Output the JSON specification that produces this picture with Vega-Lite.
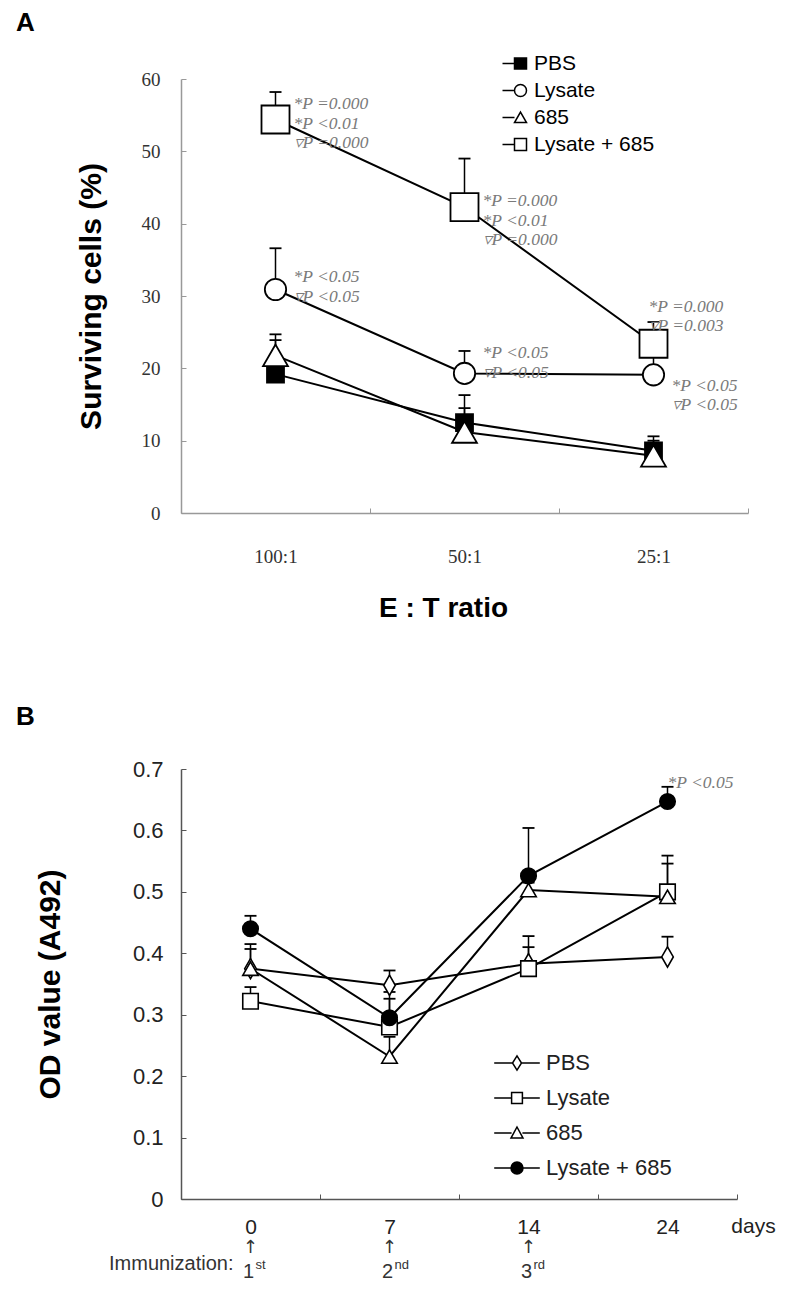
{
  "$schema": "https://vega.github.io/schema/vega-lite/v6.json",
  "background": "white",
  "padding": {"left": 16, "top": 10, "right": 5, "bottom": 5},
  "bounds": "flush",
  "spacing": 256,
  "config": {
    "view": {"stroke": null},
    "axis": {"grid": false},
    "font": "Liberation Sans"
  },
  "datasets": {
    "a": [
      {"treatment": "PBS", "ratio": "100:1", "mean": 19.2, "upper": 23.9},
      {"treatment": "PBS", "ratio": "50:1", "mean": 12.5, "upper": 16.3},
      {"treatment": "PBS", "ratio": "25:1", "mean": 8.6, "upper": 10.6},
      {"treatment": "Lysate", "ratio": "100:1", "mean": 30.9, "upper": 36.6},
      {"treatment": "Lysate", "ratio": "50:1", "mean": 19.3, "upper": 22.4},
      {"treatment": "Lysate", "ratio": "25:1", "mean": 19.1, "upper": 22.7},
      {"treatment": "685", "ratio": "100:1", "mean": 21.8, "upper": 24.7},
      {"treatment": "685", "ratio": "50:1", "mean": 11.2, "upper": 14.5},
      {"treatment": "685", "ratio": "25:1", "mean": 7.9, "upper": 10.0},
      {"treatment": "Lysate + 685", "ratio": "100:1", "mean": 54.4, "upper": 58.2},
      {"treatment": "Lysate + 685", "ratio": "50:1", "mean": 42.3, "upper": 49.0},
      {"treatment": "Lysate + 685", "ratio": "25:1", "mean": 23.4, "upper": 26.4}
    ],
    "a_notes": [
      {"ratio": "100:1", "ay": 56.5, "label": "*P =0.000\n*P <0.01\n▿P =0.000"},
      {"ratio": "100:1", "ay": 32.6, "label": "*P <0.05\n▿P <0.05"},
      {"ratio": "50:1", "ay": 43.1, "label": "*P =0.000\n*P <0.01\n▿P =0.000"},
      {"ratio": "50:1", "ay": 22.1, "label": "*P <0.05\n▿P <0.05"},
      {"ratio": "25:1", "ay": 17.6, "label": "*P <0.05\n▿P <0.05"}
    ],
    "a_notes2": [
      {"ratio": "25:1", "ay": 28.5, "label": "*P =0.000\n▿P =0.003"}
    ],
    "b": [
      {"group": "PBS", "day": "0", "mean": 0.375, "upper": 0.415},
      {"group": "PBS", "day": "7", "mean": 0.348, "upper": 0.372},
      {"group": "PBS", "day": "14", "mean": 0.383, "upper": 0.428},
      {"group": "PBS", "day": "24", "mean": 0.394, "upper": 0.427},
      {"group": "Lysate", "day": "0", "mean": 0.322, "upper": 0.345},
      {"group": "Lysate", "day": "7", "mean": 0.28, "upper": 0.326},
      {"group": "Lysate", "day": "14", "mean": 0.375, "upper": 0.41},
      {"group": "Lysate", "day": "24", "mean": 0.5, "upper": 0.559},
      {"group": "685", "day": "0", "mean": 0.375, "upper": 0.407},
      {"group": "685", "day": "7", "mean": 0.232, "upper": 0.264},
      {"group": "685", "day": "14", "mean": 0.503, "upper": 0.515},
      {"group": "685", "day": "24", "mean": 0.492, "upper": 0.546},
      {"group": "Lysate + 685", "day": "0", "mean": 0.44, "upper": 0.461},
      {"group": "Lysate + 685", "day": "7", "mean": 0.295, "upper": 0.337},
      {"group": "Lysate + 685", "day": "14", "mean": 0.526, "upper": 0.604},
      {"group": "Lysate + 685", "day": "24", "mean": 0.647, "upper": 0.671}
    ],
    "b_notes": [
      {"day": "24", "ay": 0.677, "label": "*P <0.05"}
    ],
    "immun": [
      {"day": "0", "num": "1", "sup": "st"},
      {"day": "7", "num": "2", "sup": "nd"},
      {"day": "14", "num": "3", "sup": "rd"}
    ],
    "immun_label": [
      {"day": "0", "text": "Immunization:"}
    ]
  },
  "resolve": {
    "scale": {"shape": "independent", "fill": "independent", "size": "independent", "x": "independent", "y": "independent"},
    "legend": {"shape": "independent", "fill": "independent", "size": "independent"}
  },
  "vconcat": [
    {
      "width": 567,
      "height": 434,
      "title": {"text": "A", "anchor": "start", "frame": "group", "fontSize": 26, "fontWeight": "bold", "font": "Liberation Sans", "color": "black", "dx": -165, "offset": -9, "baseline": "bottom"},
      "resolve": {"scale": {"shape": "independent", "fill": "independent"}, "legend": {"shape": "independent", "fill": "independent"}},
      "layer": [
        {
          "data": {"name": "a"},
          "mark": {"type": "line", "color": "black", "strokeWidth": 2},
          "encoding": {
            "x": {"field": "ratio", "type": "nominal", "sort": ["100:1", "50:1", "25:1"],
              "scale": {"type": "band", "paddingInner": 0, "paddingOuter": 0},
              "axis": {"title": "E : T ratio", "titleFont": "Liberation Sans", "titleFontSize": 28, "titleFontWeight": "bold", "titleColor": "black",
                "titleX": 262, "titleY": 95, "titleAlign": "center", "titleBaseline": "middle",
                "labelFont": "Liberation Serif", "labelFontSize": 19, "labelColor": "#333", "labelAngle": 0, "labelPadding": 48, "labelBaseline": "middle",
                "tickBand": "extent", "tickSize": -5, "tickColor": "#999", "domainColor": "#999", "domainWidth": 1.5, "tickWidth": 1}},
            "y": {"field": "mean", "type": "quantitative",
              "scale": {"domain": [0, 60], "nice": false, "zero": true},
              "axis": {"title": "Surviving cells (%)", "titleFont": "Liberation Sans", "titleFontSize": 30, "titleFontWeight": "bold", "titleColor": "black",
                "titleX": -90, "titleY": 217, "titleAngle": -90, "titleAlign": "center", "titleBaseline": "middle",
                "values": [0, 10, 20, 30, 40, 50, 60], "format": "d",
                "labelFont": "Liberation Serif", "labelFontSize": 19, "labelColor": "#333", "labelPadding": 26,
                "tickSize": -5, "tickColor": "#999", "domainColor": "#999", "domainWidth": 1.5}},
            "detail": {"field": "treatment"}
          }
        },
        {
          "data": {"name": "a"},
          "mark": {"type": "rule", "color": "black", "strokeWidth": 1.5},
          "encoding": {
            "x": {"field": "ratio", "type": "nominal", "sort": ["100:1", "50:1", "25:1"]},
            "y": {"field": "mean", "type": "quantitative"},
            "y2": {"field": "upper"}
          }
        },
        {
          "data": {"name": "a"},
          "mark": {"type": "tick", "color": "black", "thickness": 1.8, "size": 12, "opacity": 1},
          "encoding": {
            "x": {"field": "ratio", "type": "nominal", "sort": ["100:1", "50:1", "25:1"]},
            "y": {"field": "upper", "type": "quantitative"}
          }
        },
        {
          "data": {"name": "a"},
          "mark": {"type": "point", "filled": true, "stroke": "black", "strokeWidth": 1.8, "opacity": 1},
          "encoding": {
            "x": {"field": "ratio", "type": "nominal", "sort": ["100:1", "50:1", "25:1"]},
            "y": {"field": "mean", "type": "quantitative"},
            "shape": {"field": "treatment", "type": "nominal",
              "scale": {"domain": ["PBS", "Lysate", "685", "Lysate + 685"], "range": ["square", "circle", "triangle-up", "square"]},
              "legend": null},
            "fill": {"field": "treatment", "type": "nominal",
              "scale": {"domain": ["PBS", "Lysate", "685", "Lysate + 685"], "range": ["black", "white", "white", "white"]},
              "legend": null},
            "size": {"field": "treatment", "type": "nominal",
              "scale": {"domain": ["PBS", "Lysate", "685", "Lysate + 685"], "range": [289, 784, 784, 784]},
              "legend": null}
          }
        },
        {
          "data": {"name": "a"},
          "transform": [{"filter": "false"}],
          "mark": {"type": "point", "filled": true, "stroke": "black", "strokeWidth": 1.5, "opacity": 1},
          "encoding": {
            "x": {"field": "ratio", "type": "nominal", "sort": ["100:1", "50:1", "25:1"]},
            "y": {"field": "mean", "type": "quantitative"},
            "shape": {"field": "treatment", "type": "nominal",
              "scale": {"domain": ["PBS", "Lysate", "685", "Lysate + 685"],
                "range": ["M-3,0H-1M-1,-0.9H1V0.9H-1Z", "M-3,0H-1M-1,0A1,1,0,1,1,1,0A1,1,0,1,1,-1,0Z", "M-3,0H-1M0,-0.9L1,0.85H-1Z", "M-3,0H-1M-1,-1H1V1H-1Z"]},
              "legend": {"orient": "none", "legendX": 329, "legendY": -26, "title": null, "padding": 0,
                "labelFont": "Liberation Sans", "labelFontSize": 21, "labelColor": "black", "labelOffset": 3,
                "symbolSize": 144, "symbolOffset": 0, "rowPadding": 5,
                "encode": {"symbols": {"stroke": {"value": "black"}, "strokeWidth": {"value": 1.5}}}}},
            "fill": {"field": "treatment", "type": "nominal",
              "scale": {"domain": ["PBS", "Lysate", "685", "Lysate + 685"], "range": ["black", "white", "white", "white"]},
              "legend": null}
          }
        },
        {
          "data": {"name": "a_notes"},
          "mark": {"type": "text", "font": "Liberation Serif", "fontStyle": "italic", "fontSize": 17.5, "color": "#7a7a7a", "align": "left", "baseline": "middle", "dx": 18, "lineBreak": "\n", "lineHeight": 19.5},
          "encoding": {
            "x": {"field": "ratio", "type": "nominal", "sort": ["100:1", "50:1", "25:1"]},
            "y": {"field": "ay", "type": "quantitative"},
            "text": {"field": "label"}
          }
        },
        {
          "data": {"name": "a_notes2"},
          "mark": {"type": "text", "font": "Liberation Serif", "fontStyle": "italic", "fontSize": 17.5, "color": "#7a7a7a", "align": "left", "baseline": "middle", "dx": -5, "lineBreak": "\n", "lineHeight": 19.5},
          "encoding": {
            "x": {"field": "ratio", "type": "nominal", "sort": ["100:1", "50:1", "25:1"]},
            "y": {"field": "ay", "type": "quantitative"},
            "text": {"field": "label"}
          }
        }
      ]
    },
    {
      "width": 556,
      "height": 430,
      "title": {"text": "B", "anchor": "start", "frame": "group", "fontSize": 26, "fontWeight": "bold", "font": "Liberation Sans", "color": "black", "dx": -165, "offset": 2, "baseline": "bottom"},
      "resolve": {"scale": {"shape": "independent", "fill": "independent"}, "legend": {"shape": "independent", "fill": "independent"}},
      "layer": [
        {
          "data": {"name": "b"},
          "mark": {"type": "line", "color": "black", "strokeWidth": 2},
          "encoding": {
            "x": {"field": "day", "type": "nominal", "sort": ["0", "7", "14", "24"],
              "scale": {"type": "band", "paddingInner": 0, "paddingOuter": 0},
              "axis": {"title": "days", "titleFont": "Liberation Sans", "titleFontSize": 21, "titleFontWeight": "normal", "titleColor": "#222",
                "titleX": 572, "titleY": 27, "titleAlign": "center", "titleBaseline": "middle",
                "labelFont": "Liberation Sans", "labelFontSize": 21, "labelColor": "#222", "labelAngle": 0, "labelPadding": 33, "labelBaseline": "middle",
                "tickBand": "extent", "tickSize": -5, "tickColor": "#555", "domainColor": "#555", "domainWidth": 1.5, "tickWidth": 1}},
            "y": {"field": "mean", "type": "quantitative",
              "scale": {"domain": [0, 0.7], "nice": false, "zero": true},
              "axis": {"title": "OD value (A492)", "titleFont": "Liberation Sans", "titleFontSize": 30, "titleFontWeight": "bold", "titleColor": "black",
                "titleX": -131, "titleY": 215, "titleAngle": -90, "titleAlign": "center", "titleBaseline": "middle",
                "values": [0, 0.1, 0.2, 0.3, 0.4, 0.5, 0.6, 0.7], "format": ".1~f",
                "labelFont": "Liberation Sans", "labelFontSize": 22, "labelColor": "#222", "labelPadding": 23,
                "tickSize": -5, "tickColor": "#555", "domainColor": "#555", "domainWidth": 1.5}},
            "detail": {"field": "group"}
          }
        },
        {
          "data": {"name": "b"},
          "mark": {"type": "rule", "color": "black", "strokeWidth": 1.5},
          "encoding": {
            "x": {"field": "day", "type": "nominal", "sort": ["0", "7", "14", "24"]},
            "y": {"field": "mean", "type": "quantitative"},
            "y2": {"field": "upper"}
          }
        },
        {
          "data": {"name": "b"},
          "mark": {"type": "tick", "color": "black", "thickness": 1.8, "size": 12, "opacity": 1},
          "encoding": {
            "x": {"field": "day", "type": "nominal", "sort": ["0", "7", "14", "24"]},
            "y": {"field": "upper", "type": "quantitative"}
          }
        },
        {
          "data": {"name": "b"},
          "mark": {"type": "point", "filled": true, "stroke": "black", "strokeWidth": 1.6, "opacity": 1, "size": 240},
          "encoding": {
            "x": {"field": "day", "type": "nominal", "sort": ["0", "7", "14", "24"]},
            "y": {"field": "mean", "type": "quantitative"},
            "shape": {"field": "group", "type": "nominal",
              "scale": {"domain": ["PBS", "Lysate", "685", "Lysate + 685"], "range": ["M0,-1.3L0.75,0L0,1.3L-0.75,0Z", "square", "triangle-up", "circle"]},
              "legend": null},
            "fill": {"field": "group", "type": "nominal",
              "scale": {"domain": ["PBS", "Lysate", "685", "Lysate + 685"], "range": ["white", "white", "white", "black"]},
              "legend": null}
          }
        },
        {
          "data": {"name": "b"},
          "transform": [{"filter": "false"}],
          "mark": {"type": "point", "filled": true, "stroke": "black", "strokeWidth": 1.6, "opacity": 1},
          "encoding": {
            "x": {"field": "day", "type": "nominal", "sort": ["0", "7", "14", "24"]},
            "y": {"field": "mean", "type": "quantitative"},
            "shape": {"field": "group", "type": "nominal",
              "scale": {"domain": ["PBS", "Lysate", "685", "Lysate + 685"],
                "range": ["M-3.8,0H-0.75M0.75,0H3.8M0,-1.2L0.75,0L0,1.2L-0.75,0Z", "M-3.8,0H-0.9M0.9,0H3.8M-0.9,-0.9H0.9V0.9H-0.9Z", "M-3.8,0H-0.9M0.9,0H3.8M0,-1L1,0.85H-1Z", "M-3.8,0H3.8M-1,0A1,1,0,1,1,1,0A1,1,0,1,1,-1,0Z"]},
              "legend": {"orient": "none", "legendX": 325, "legendY": 283, "title": null, "padding": 0,
                "labelFont": "Liberation Sans", "labelFontSize": 22, "labelColor": "#222", "labelOffset": 18,
                "symbolSize": 144, "symbolOffset": 0, "rowPadding": 13,
                "encode": {"symbols": {"stroke": {"value": "black"}, "strokeWidth": {"value": 1.6}}}}},
            "fill": {"field": "group", "type": "nominal",
              "scale": {"domain": ["PBS", "Lysate", "685", "Lysate + 685"], "range": ["white", "white", "white", "black"]},
              "legend": null}
          }
        },
        {
          "data": {"name": "b_notes"},
          "mark": {"type": "text", "font": "Liberation Serif", "fontStyle": "italic", "fontSize": 17.5, "color": "#7a7a7a", "align": "left", "baseline": "middle", "dx": 0},
          "encoding": {
            "x": {"field": "day", "type": "nominal", "sort": ["0", "7", "14", "24"]},
            "y": {"field": "ay", "type": "quantitative"},
            "text": {"field": "label"}
          }
        },
        {
          "data": {"name": "immun"},
          "mark": {"type": "text", "font": "DejaVu Sans", "fontSize": 18, "color": "#333", "align": "center", "baseline": "middle", "dy": 49},
          "encoding": {
            "x": {"field": "day", "type": "nominal", "sort": ["0", "7", "14", "24"]},
            "y": {"datum": 0},
            "text": {"value": "↑"}
          }
        },
        {
          "data": {"name": "immun"},
          "mark": {"type": "text", "font": "Liberation Sans", "fontSize": 20, "color": "#333", "align": "center", "baseline": "middle", "dy": 73, "dx": -2},
          "encoding": {
            "x": {"field": "day", "type": "nominal", "sort": ["0", "7", "14", "24"]},
            "y": {"datum": 0},
            "text": {"field": "num"}
          }
        },
        {
          "data": {"name": "immun"},
          "mark": {"type": "text", "font": "Liberation Sans", "fontSize": 13, "color": "#333", "align": "left", "baseline": "middle", "dy": 66, "dx": 5},
          "encoding": {
            "x": {"field": "day", "type": "nominal", "sort": ["0", "7", "14", "24"]},
            "y": {"datum": 0},
            "text": {"field": "sup"}
          }
        },
        {
          "data": {"name": "immun_label"},
          "mark": {"type": "text", "font": "Liberation Sans", "fontSize": 20, "color": "#333", "align": "right", "baseline": "middle", "dy": 65, "dx": -17},
          "encoding": {
            "x": {"field": "day", "type": "nominal", "sort": ["0", "7", "14", "24"]},
            "y": {"datum": 0},
            "text": {"field": "text"}
          }
        }
      ]
    }
  ]
}
